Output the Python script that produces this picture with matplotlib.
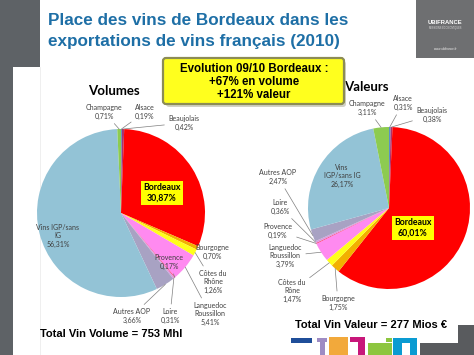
import numpy as np
import matplotlib
matplotlib.use("Agg")
import matplotlib.pyplot as plt
from matplotlib.patches import Rectangle, FancyBboxPatch

# wine regions, clockwise from 12 o'clock
regions = ["Alsace", "Beaujolais", "Bordeaux", "Bourgogne", "Côtes du Rhône",
           "Languedoc Roussillon", "Provence", "Loire", "Autres AOP",
           "Vins IGP/sans IG", "Champagne"]
volume_pct = [0.19, 0.42, 30.87, 0.70, 1.26, 5.41, 0.17, 0.31, 3.66, 56.31, 0.71]
value_pct = [0.31, 0.38, 60.01, 1.75, 1.47, 3.79, 0.19, 0.36, 2.47, 26.17, 3.11]

volume_names = ["Alsace", "Beaujolais", "Bordeaux", "Bourgogne", "Côtes du\nRhône",
                "Languedoc\nRoussillon", "Provence", "Loire", "Autres AOP",
                "Vins IGP/sans\nIG", "Champagne"]
value_names = ["Alsace", "Beaujolais", "Bordeaux", "Bourgogne", "Côtes du\nRône",
               "Languedoc\nRoussillon", "Provence", "Loire", "Autres AOP",
               "Vins\nIGP/sans IG", "Champagne"]

title = "Place des vins de Bordeaux dans les\nexportations de vins français (2010)"
evolution = "Evolution 09/10 Bordeaux :\n+67% en volume\n+121% valeur"
total_volume = "Total Vin Volume = 753 Mhl"
total_value = "Total Vin Valeur = 277 Mios €"

colors = ["#5B8FC9", "#B0306A", "#FF0000", "#F2B100", "#FFFF1A", "#FF8AF0",
          "#FF3C78", "#D99BE0", "#A8A2C3", "#93C3D6", "#8DCB50"]

W, H = 474, 355
LABEL_FONT = ["Lato", "DejaVu Sans"]
BOLD_FONT = ["Liberation Sans", "DejaVu Sans"]

fig = plt.figure(figsize=(W / 100, H / 100), dpi=100)
fig.patch.set_facecolor("white")

bg = fig.add_axes([0, 0, 1, 1], zorder=0)
bg.set_xlim(0, W)
bg.set_ylim(H, 0)
bg.axis("off")

fg = fig.add_axes([0, 0, 1, 1], zorder=5)
fg.set_xlim(0, W)
fg.set_ylim(H, 0)
fg.axis("off")
fg.patch.set_alpha(0)

# slide decorations
grey = "#5E6266"
bg.add_patch(Rectangle((0, 0), 40, 67, color=grey, lw=0))
bg.add_patch(Rectangle((0, 0), 13, H, color=grey, lw=0))
bg.plot([40, 40], [67, H], color="#EDEDED", lw=0.6)
bg.add_patch(Rectangle((416, 0), 58, 58, color="#6E6F71", lw=0))
bg.text(445, 22, "UBIFRANCE", color="white", fontsize=4.2, fontweight="bold",
        ha="center", va="center", family=BOLD_FONT)
bg.text(445, 28, "MISSIONS ÉCONOMIQUES", color="#DDDDDD", fontsize=1.8,
        ha="center", va="center", family=BOLD_FONT)
bg.text(445, 49, "www.ubifrance.fr", color="#EEEEEE", fontsize=2.2,
        ha="center", va="center", family=BOLD_FONT)

# coloured blocks bottom right
blocks = [((291, 338), 21, 5, "#1F4E99"),
          ((317, 338), 10, 4, "#9E8CC4"), ((320, 338), 5, 17, "#9E8CC4"),
          ((329, 337), 19, 18, "#F2A93B"),
          ((350, 337), 15, 5, "#C8177A"), ((358, 337), 7, 18, "#C8177A"),
          ((386, 338), 6, 4, "#8DC63F"), ((368, 343), 24, 12, "#8DC63F"),
          ((393, 338), 24, 17, "#0A9BD2"),
          ((420, 343), 54, 12, "#595B5E"), ((458, 325), 16, 18, "#595B5E")]
for (x0, y0), bw, bh, c in blocks:
    fg.add_patch(Rectangle((x0, y0), bw, bh, color=c, lw=0))
fg.add_patch(Rectangle((402, 343), 8, 12, color="white", lw=0))

# title
fg.text(48, 25, title.split("\n")[0], color="#1E6FA6", fontsize=12.35,
        fontweight="bold", family=BOLD_FONT, va="baseline", ha="left")
fg.text(48, 46, title.split("\n")[1], color="#1E6FA6", fontsize=12.35,
        fontweight="bold", family=BOLD_FONT, va="baseline", ha="left")


def fmt(v):
    return ("%.2f" % v).replace(".", ",") + "%"


def draw_pie(cx, cy, r, values, names, label_pos, leader, heading, heading_pos,
             total, total_pos, bold_idx, bold_pos):
    ax = fig.add_axes([(cx - r) / W, 1 - (cy + r) / H, 2 * r / W, 2 * r / H], zorder=2)
    ax.pie(values, colors=colors, startangle=90, counterclock=False, radius=1,
           wedgeprops=dict(linewidth=0))
    ax.set_xlim(-1, 1)
    ax.set_ylim(-1, 1)
    ax.set_aspect("auto")
    ax.axis("off")

    cum = np.cumsum([0] + list(values))
    total_v = cum[-1]
    for i, (name, v) in enumerate(zip(names, values)):
        if i == bold_idx:
            continue
        mid = np.deg2rad(90 - 360 * (cum[i] + v / 2) / total_v)
        tx, ty = label_pos[i]
        label = name + "\n" + fmt(v)
        if leader[i]:
            ax.annotate(label, xy=(np.cos(mid), np.sin(mid)), xycoords="data",
                        xytext=(tx, ty), textcoords=fg.transData,
                        ha="center", va="center", fontsize=5, family=LABEL_FONT,
                        color="#404040", linespacing=1.25,
                        arrowprops=dict(arrowstyle="-", color="#7F7F7F", lw=0.5,
                                        shrinkA=1, shrinkB=0), zorder=4)
        else:
            fg.text(tx, ty, label, ha="center", va="center", fontsize=5,
                    family=LABEL_FONT, color="#404040", linespacing=1.25)

    fg.text(bold_pos[0], bold_pos[1], names[bold_idx] + "\n" + fmt(values[bold_idx]),
            ha="center", va="center", fontsize=6.3, fontweight="bold",
            family=LABEL_FONT, color="black", linespacing=1.3,
            bbox=dict(boxstyle="square,pad=0.25", fc="#FFFF00", ec="none"))
    fg.text(heading_pos[0], heading_pos[1], heading, ha="center", va="center",
            fontsize=9.5, fontweight="bold", family=LABEL_FONT, color="black")
    fg.text(total_pos[0], total_pos[1], total, ha="center", va="center",
            fontsize=8, fontweight="bold", family=BOLD_FONT, color="black")


volume_labels = [(145, 112), (184, 123), None, (212, 252), (213, 282), (210, 314),
                 (169, 262), (170, 316), (132, 316), (58, 236), (104, 112)]
volume_leader = [True, True, False, False, True, True, True, True, True, False, True]
draw_pie(121, 213, 84, volume_pct, volume_names, volume_labels, volume_leader,
         "Volumes", (114, 91), total_volume, (111, 334), 2, (162, 193))

value_labels = [(403, 103), (432, 115), None, (338, 303), (292, 291), (285, 256),
                (278, 231), (280, 207), (278, 177), (342, 176), (367, 108)]
value_leader = [True, True, False, True, True, True, True, True, True, False, True]
draw_pie(389, 208, 81, value_pct, value_names, value_labels, value_leader,
         "Valeurs", (366, 87), total_value, (371, 325), 2, (413, 228))

# evolution box with shadow
fg.add_patch(FancyBboxPatch((166, 61), 180, 46, boxstyle="round,pad=0,rounding_size=3",
                            fc="#B5B5A0", ec="none", alpha=0.6, zorder=6))
fg.add_patch(FancyBboxPatch((163, 58), 181, 46, boxstyle="round,pad=0,rounding_size=3",
                            fc="#FFFF1E", ec="#8C8C55", lw=1.6, zorder=7))
fg.text(254, 82, evolution, ha="center", va="center", fontsize=8.3,
        fontweight="bold", family=BOLD_FONT, color="black", linespacing=1.15,
        zorder=8)

fig.savefig("out.png", dpi=100)
